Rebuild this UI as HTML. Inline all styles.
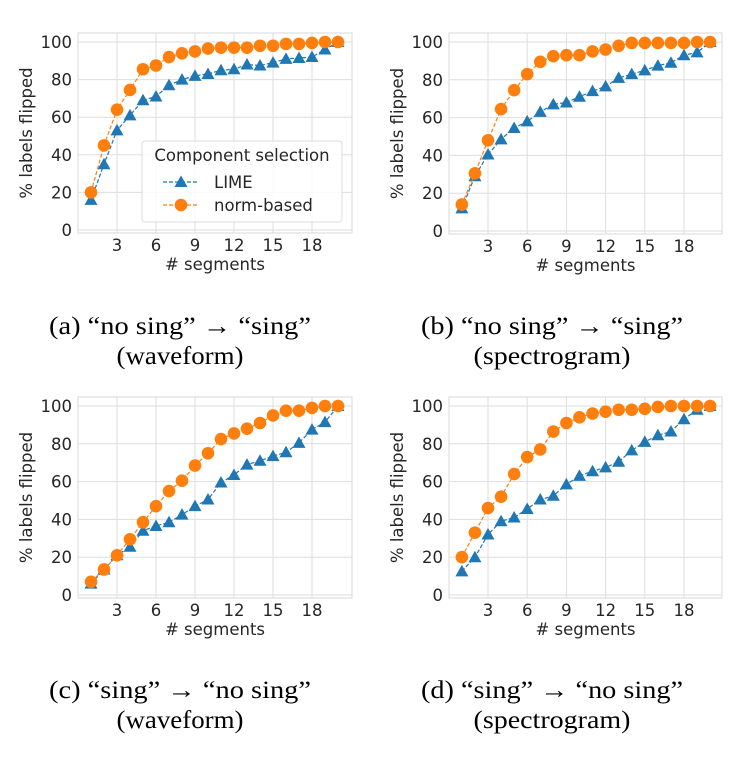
<!DOCTYPE html>
<html><head><meta charset="utf-8"><style>
body{margin:0;background:#fff;}
svg{display:block;}
</style></head><body>
<svg id="fig" width="747" height="758" xmlns="http://www.w3.org/2000/svg"></svg>
<script>
const xValues=[1,2,3,4,5,6,7,8,9,10,11,12,13,14,15,16,17,18,19,20];
const xTicks=[3,6,9,12,15,18];
const yTicks=[0,20,40,60,80,100];
const limeA=[16,35,53,61,69,71,77,80,82,83,85,85.5,88,87.5,89,91,91.5,92,96,100];
const normA=[20,45,64,74.5,85.5,87.5,92,94,95,96.5,97,97,97,98,98,99,99,99.5,100,100];
const limeB=[12,29,40.5,48.5,54.5,58,63,67,68,71,74,76.5,81,83,85,87.5,89,93,94.5,100];
const normB=[14,30.5,48,64.5,74.5,83,89.5,92.5,93,93,95,96,98,99.5,99.5,99.5,99.5,99.5,100,100];
const limeC=[6,13.5,21,25.5,34,36.5,38.5,42.5,47,50.5,59.5,63.5,69,71,73.5,75.5,80.5,87.5,91.5,100];
const normC=[7,13.5,21,29.5,38.5,47,55,60.5,68.5,75,82.5,85.5,88,91,95,97.5,97.5,99,100,100];
const limeD=[12.5,20,32,39,41,45.5,50.5,52.5,58.5,63,65.5,67.5,70.5,76.5,81,84.5,86.5,93,98,100];
const normD=[20,33,46,52,64,73,77,86.5,91,94,96,97,98,98,98.5,99.5,100,100,100,100];
const captions=[["(a) “no sing” → “sing”","(waveform)"],["(b) “no sing” → “sing”","(spectrogram)"],["(c) “sing” → “no sing”","(waveform)"],["(d) “sing” → “no sing”","(spectrogram)"]];

const NS="http://www.w3.org/2000/svg";
const svg=document.getElementById('fig');
function mk(tag,attrs,parent){const e=document.createElementNS(NS,tag);for(const k in attrs)e.setAttribute(k,attrs[k]);(parent||svg).appendChild(e);return e;}
const BLUE="#1f77b4",ORANGE="#ff7f0e",TXT="#262626",FS=16.5,FF='DejaVu Sans, sans-serif';
const panels=[
 {l:78,r:352,top:33,x3:117,x18:312,y0:230,y100:42,lime:limeA,norm:normA,cx:180,cy:334,legend:true},
 {l:449,r:722,top:33,x3:488,x18:684,y0:231,y100:42,lime:limeB,norm:normB,cx:552,cy:334},
 {l:78,r:352,top:397,x3:117,x18:312,y0:595,y100:406,lime:limeC,norm:normC,cx:180,cy:698},
 {l:449,r:722,top:397,x3:488,x18:684,y0:595,y100:406,lime:limeD,norm:normD,cx:552,cy:698}
];
panels.forEach((p,i)=>{
 const g=mk('g',{});
 
 
 const xs=v=>p.x3+(v-3)*(p.x18-p.x3)/15;
 const ys=v=>p.y0-v*(p.y0-p.y100)/100;
 const bottom=p.y0+3;
 xTicks.forEach(t=>{const l=mk('line',{x1:xs(t),x2:xs(t),y1:p.top,y2:bottom,stroke:'#dedede','stroke-width':1},g);
  const tx=mk('text',{x:xs(t),y:bottom+18,'text-anchor':'middle','font-size':FS,fill:TXT,'font-family':FF},g);tx.textContent=t;});
 yTicks.forEach(t=>{const l=mk('line',{x1:p.l,x2:p.r,y1:ys(t),y2:ys(t),stroke:'#dedede','stroke-width':1},g);
  const tx=mk('text',{x:p.l-6,y:ys(t)+6,'text-anchor':'end','font-size':FS,fill:TXT,'font-family':FF},g);tx.textContent=t;});
 const fr=mk('rect',{x:p.l,y:p.top,width:p.r-p.l,height:bottom-p.top,fill:'none',stroke:'#d8d8d8','stroke-width':1},g);
 
 const xl=mk('text',{x:(p.l+p.r)/2,y:bottom+37,'text-anchor':'middle','font-size':FS,fill:TXT,'font-family':FF},g);xl.textContent='# segments';
 
 const yx=p.l-46,yy=(p.top+bottom)/2;
 const yl=mk('text',{x:yx,y:yy,'text-anchor':'middle','font-size':FS,fill:TXT,'font-family':FF,transform:`rotate(-90 ${yx} ${yy})`},g);yl.textContent='% labels flipped';
 
 const drawSeries=(vals,color,kind)=>{
  const pts=xValues.map((x,j)=>xs(x)+','+ys(vals[j])).join(' ');
  const pl=mk('polyline',{points:pts,fill:'none',stroke:color,'stroke-width':1.2,'stroke-dasharray':'4,2'},g);
  
  xValues.forEach((x,j)=>{const cx=xs(x),cy=ys(vals[j]);let m;
   if(kind==='lime'){m=mk('polygon',{points:`${cx},${cy-6.5} ${cx-6.5},${cy+5} ${cx+6.5},${cy+5}`,fill:color},g);}
   else{m=mk('circle',{cx:cx,cy:cy,r:6.3,fill:color},g);}
   });
 };
 drawSeries(p.lime,BLUE,'lime');
 drawSeries(p.norm,ORANGE,'norm');
 if(p.legend){
  const lg=mk('g',{},g);
  mk('rect',{x:142,y:141,width:200,height:81,rx:3,fill:'#fff','fill-opacity':0.85,stroke:'#dcdcdc'},lg);
  const t=mk('text',{x:242,y:161,'text-anchor':'middle','font-size':FS,fill:TXT,'font-family':FF},lg);t.textContent='Component selection';
  
  [['LIME',BLUE,182,'lime'],['norm-based',ORANGE,205,'norm']].forEach(r=>{
   const e=mk('g',{},lg);
   mk('line',{x1:163,x2:199,y1:r[2],y2:r[2],stroke:r[1],'stroke-width':1.2,'stroke-dasharray':'4,2'},e);
   if(r[3]==='lime')mk('polygon',{points:`181,${r[2]-6.5} 174.5,${r[2]+5} 187.5,${r[2]+5}`,fill:r[1]},e);
   else mk('circle',{cx:181,cy:r[2],r:6.3,fill:r[1]},e);
   const tx=mk('text',{x:214,y:r[2]+6,'font-size':FS,fill:TXT,'font-family':FF},e);tx.textContent=r[0];
  });
 }
 const c=captions[i];
 const widths=[[262,127],[262,157],[262,127],[262,157]][i];
 [0,1].forEach(k=>{const tx=mk('text',{x:p.cx,y:p.cy+k*30,'text-anchor':'middle','font-size':25,fill:'#000','font-family':'Liberation Serif, "DejaVu Serif", serif',textLength:widths[k],lengthAdjust:'spacingAndGlyphs'},g);tx.textContent=c[k];
  });
});
</script>
</body></html>
